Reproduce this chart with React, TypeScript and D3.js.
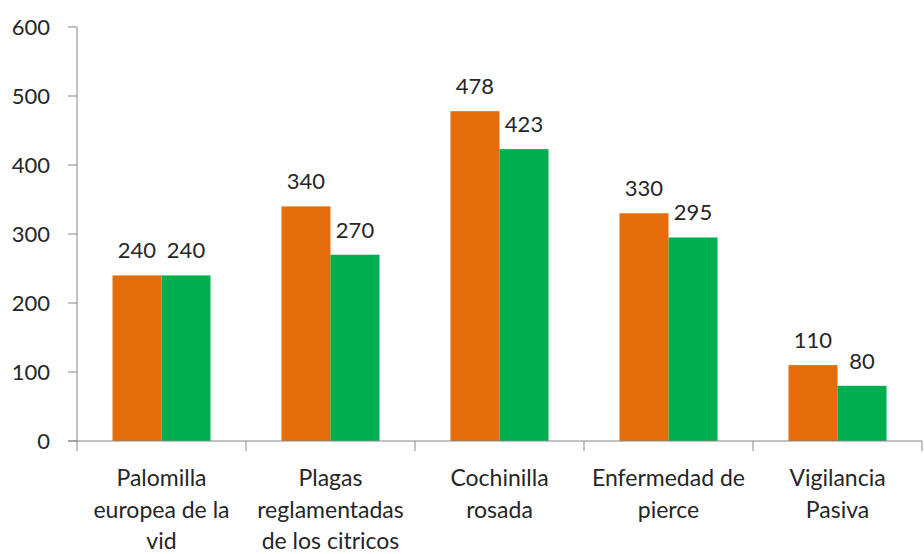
import React, { useEffect, useRef } from 'react';
import * as d3 from 'd3';

const categories = [
  ['Palomilla', 'europea de la', 'vid'],
  ['Plagas', 'reglamentadas', 'de los citricos'],
  ['Cochinilla', 'rosada'],
  ['Enfermedad de', 'pierce'],
  ['Vigilancia', 'Pasiva'],
];
const seriesA = [240, 340, 478, 330, 110];
const seriesB = [240, 270, 423, 295, 80];
const yTicks = [0, 100, 200, 300, 400, 500, 600];
const colors = ['#E46C0A', '#00B050'];

const W = 924;
const H = 554;

export default function App() {
  const svgRef = useRef<SVGSVGElement>(null);

  useEffect(() => {
    if (!svgRef.current) return;
    const svg = d3.select(svgRef.current);
    svg.selectAll('*').remove();

    const left = 77, right = 922, top = 27, bottom = 441;
    const font = 'Lato, "Open Sans", sans-serif';
    const textColor = '#262626';
    const axisColor = '#868686';

    const x = d3.scaleBand<number>()
      .domain(d3.range(categories.length))
      .range([left, right]);
    const y = d3.scaleLinear().domain([0, 600]).range([bottom, top]);

    const barW = x.bandwidth() * 0.29;

    // y axis
    svg.append('line')
      .attr('x1', left).attr('x2', left)
      .attr('y1', top).attr('y2', bottom)
      .attr('stroke', axisColor).attr('stroke-width', 1);
    svg.append('g').selectAll('line')
      .data(yTicks)
      .join('line')
      .attr('x1', left - 9).attr('x2', left)
      .attr('y1', d => y(d)).attr('y2', d => y(d))
      .attr('stroke', axisColor);
    svg.append('g').selectAll('text')
      .data(yTicks)
      .join('text')
      .attr('x', left - 27)
      .attr('y', d => y(d))
      .attr('dy', '0.35em')
      .attr('text-anchor', 'end')
      .attr('font-family', font)
      .attr('font-size', 22)
      .attr('fill', textColor)
      .text(d => d);

    // bars
    const series = [seriesA, seriesB];
    series.forEach((vals, si) => {
      const g = svg.append('g');
      g.selectAll('rect')
        .data(vals)
        .join('rect')
        .attr('x', (d, i) => (x(i) as number) + x.bandwidth() / 2 - barW + si * barW)
        .attr('y', d => y(d))
        .attr('width', barW)
        .attr('height', d => y(0) - y(d))
        .attr('fill', colors[si]);
      g.selectAll('text')
        .data(vals)
        .join('text')
        .attr('x', (d, i) => (x(i) as number) + x.bandwidth() / 2 - barW / 2 + si * barW)
        .attr('y', d => y(d) - 17)
        .attr('text-anchor', 'middle')
        .attr('font-family', font)
        .attr('font-size', 22)
        .attr('fill', textColor)
        .text(d => d);
    });

    // x axis
    svg.append('line')
      .attr('x1', left - 9).attr('x2', right)
      .attr('y1', bottom).attr('y2', bottom)
      .attr('stroke', axisColor);
    svg.append('g').selectAll('line')
      .data(d3.range(categories.length + 1))
      .join('line')
      .attr('x1', d => left + d * x.step())
      .attr('x2', d => left + d * x.step())
      .attr('y1', bottom).attr('y2', bottom + 10)
      .attr('stroke', axisColor);

    const labels = svg.append('g').selectAll('text')
      .data(categories)
      .join('text')
      .attr('x', (d, i) => (x(i) as number) + x.bandwidth() / 2)
      .attr('y', 486)
      .attr('text-anchor', 'middle')
      .attr('font-family', font)
      .attr('font-size', 23)
      .attr('fill', textColor);
    labels.selectAll('tspan')
      .data(d => d)
      .join('tspan')
      .attr('x', function () {
        return (this.parentNode as SVGTextElement).getAttribute('x');
      })
      .attr('dy', (d, i) => (i === 0 ? 0 : 31.5))
      .text(d => d);
  }, []);

  return (
    <div style={{ position: 'fixed', left: 0, top: 0, width: W, height: H, overflow: 'hidden', background: '#fff' }}>
      <svg ref={svgRef} width={W} height={H} style={{ display: 'block' }} />
    </div>
  );
}
